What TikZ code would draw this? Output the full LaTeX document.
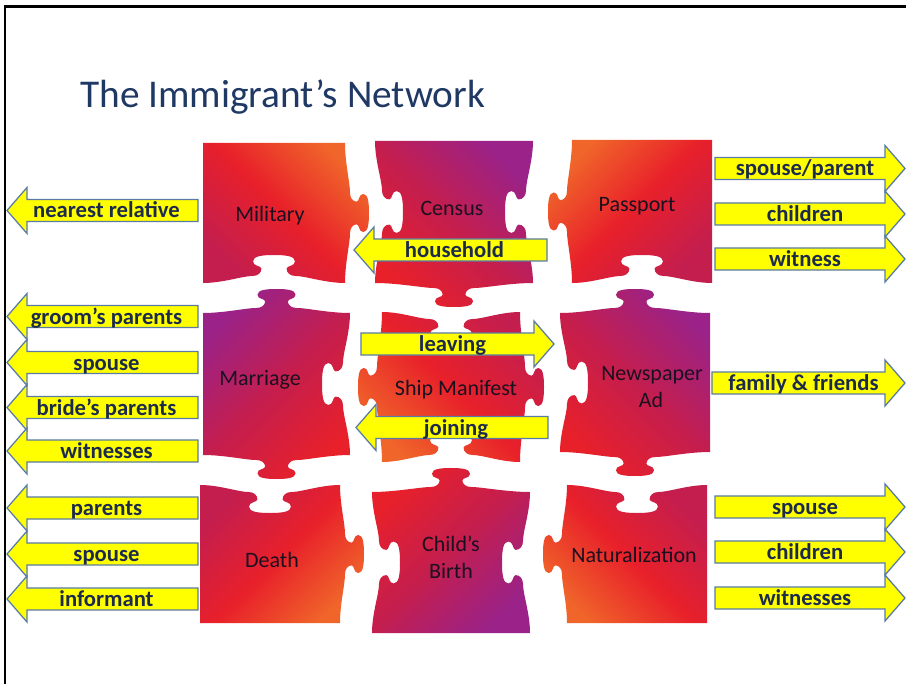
\documentclass[tikz,border=0pt]{standalone}
\usepackage{fontspec}
\setmainfont{Carlito}

\definecolor{pzred}{HTML}{E8202A}
\definecolor{pzorange}{HTML}{F0662A}
\definecolor{pzcrimson}{HTML}{C41E4E}
\definecolor{pzpurple}{HTML}{9A2288}
\definecolor{piecetext}{HTML}{1A1020}
\definecolor{arrowyellow}{HTML}{FFFF00}
\definecolor{arrowedge}{HTML}{5A7CA4}
\definecolor{arrowtext}{HTML}{1C2A4C}
\definecolor{titleblue}{HTML}{1F3864}

% One jigsaw side along a horizontal line.
% #1 centre x, #2 line y, #3 half length, #4 direction along x (+1/-1),
% #5 side of the bump in y (+1/-1), #6 bump depth, #7 side bulge, #8 head half width
\newcommand\hedge[8]{%
 .. controls ({#1+(#4)*(-(#3)+0.4*((#3)-0.6*(#8)-9))},{#2}) and ({#1+(#4)*(-0.6*(#8)-19)},{#2+(#5)*(#7)}) .. ({#1+(#4)*(-0.6*(#8)-9)},{#2+(#5)*(#7)})
 .. controls ({#1+(#4)*(-0.6*(#8)-3.6)},{#2+(#5)*(#7)}) and ({#1+(#4)*(-0.6*(#8))},{#2+(#5)*((#7)+0.15*(#6))}) .. ({#1+(#4)*(-0.6*(#8))},{#2+(#5)*((#7)+0.35*(#6))})
 .. controls ({#1+(#4)*(-0.6*(#8))},{#2+(#5)*((#7)+0.5*(#6))}) and ({#1+(#4)*(-(#8))},{#2+(#5)*((#7)+0.45*(#6))}) .. ({#1+(#4)*(-(#8))},{#2+(#5)*((#7)+0.7*(#6))})
 .. controls ({#1+(#4)*(-(#8))},{#2+(#5)*((#7)+0.95*(#6))}) and ({#1+(#4)*(-0.55*(#8))},{#2+(#5)*((#7)+(#6))}) .. ({#1},{#2+(#5)*((#7)+(#6))})
 .. controls ({#1+(#4)*(0.55*(#8))},{#2+(#5)*((#7)+(#6))}) and ({#1+(#4)*(#8)},{#2+(#5)*((#7)+0.95*(#6))}) .. ({#1+(#4)*(#8)},{#2+(#5)*((#7)+0.7*(#6))})
 .. controls ({#1+(#4)*(#8)},{#2+(#5)*((#7)+0.45*(#6))}) and ({#1+(#4)*(0.6*(#8))},{#2+(#5)*((#7)+0.5*(#6))}) .. ({#1+(#4)*(0.6*(#8))},{#2+(#5)*((#7)+0.35*(#6))})
 .. controls ({#1+(#4)*(0.6*(#8))},{#2+(#5)*((#7)+0.15*(#6))}) and ({#1+(#4)*(0.6*(#8)+3.6)},{#2+(#5)*(#7)}) .. ({#1+(#4)*(0.6*(#8)+9)},{#2+(#5)*(#7)})
 .. controls ({#1+(#4)*(0.6*(#8)+19)},{#2+(#5)*(#7)}) and ({#1+(#4)*((#3)-0.4*((#3)-0.6*(#8)-9))},{#2}) .. ({#1+(#4)*(#3)},{#2})}

% The same along a vertical line.
% #1 line x, #2 centre y, #3 half length, #4 direction along y, #5 side of the bump in x
\newcommand\vedge[8]{%
 .. controls ({#1},{#2+(#4)*(-(#3)+0.4*((#3)-0.6*(#8)-9))}) and ({#1+(#5)*(#7)},{#2+(#4)*(-0.6*(#8)-19)}) .. ({#1+(#5)*(#7)},{#2+(#4)*(-0.6*(#8)-9)})
 .. controls ({#1+(#5)*(#7)},{#2+(#4)*(-0.6*(#8)-3.6)}) and ({#1+(#5)*((#7)+0.15*(#6))},{#2+(#4)*(-0.6*(#8))}) .. ({#1+(#5)*((#7)+0.35*(#6))},{#2+(#4)*(-0.6*(#8))})
 .. controls ({#1+(#5)*((#7)+0.5*(#6))},{#2+(#4)*(-0.6*(#8))}) and ({#1+(#5)*((#7)+0.45*(#6))},{#2+(#4)*(-(#8))}) .. ({#1+(#5)*((#7)+0.7*(#6))},{#2+(#4)*(-(#8))})
 .. controls ({#1+(#5)*((#7)+0.95*(#6))},{#2+(#4)*(-(#8))}) and ({#1+(#5)*((#7)+(#6))},{#2+(#4)*(-0.55*(#8))}) .. ({#1+(#5)*((#7)+(#6))},{#2})
 .. controls ({#1+(#5)*((#7)+(#6))},{#2+(#4)*(0.55*(#8))}) and ({#1+(#5)*((#7)+0.95*(#6))},{#2+(#4)*(#8)}) .. ({#1+(#5)*((#7)+0.7*(#6))},{#2+(#4)*(#8)})
 .. controls ({#1+(#5)*((#7)+0.45*(#6))},{#2+(#4)*(#8)}) and ({#1+(#5)*((#7)+0.5*(#6))},{#2+(#4)*(0.6*(#8))}) .. ({#1+(#5)*((#7)+0.35*(#6))},{#2+(#4)*(0.6*(#8))})
 .. controls ({#1+(#5)*((#7)+0.15*(#6))},{#2+(#4)*(0.6*(#8))}) and ({#1+(#5)*(#7)},{#2+(#4)*(0.6*(#8)+3.6)}) .. ({#1+(#5)*(#7)},{#2+(#4)*(0.6*(#8)+9)})
 .. controls ({#1+(#5)*(#7)},{#2+(#4)*(0.6*(#8)+19)}) and ({#1},{#2+(#4)*((#3)-0.4*((#3)-0.6*(#8)-9))}) .. ({#1},{#2+(#4)*(#3)})}

\newcommand\htab[5]{\hedge{#1}{#2}{#3}{#4}{#5}{19}{5}{19}}
\newcommand\hblank[5]{\hedge{#1}{#2}{#3}{#4}{#5}{21}{7}{21}}
\newcommand\vtab[5]{\vedge{#1}{#2}{#3}{#4}{#5}{19}{5}{19}}
\newcommand\vblank[5]{\vedge{#1}{#2}{#3}{#4}{#5}{21}{7}{21}}

% Yellow block arrows with a bold label
\newcommand\larrow[5]{% name, tip x, tail x, centre y, label
  \draw[yarrow] (#2,#4) -- ({#2+20},{#4-23}) -- ({#2+20},{#4-11}) -- (#3,{#4-11})
     -- (#3,{#4+11}) -- ({#2+20},{#4+11}) -- ({#2+20},{#4+23}) -- cycle;
  \node[atxt] (#1) at ({(#2+#3)/2+4},{#4+7.5}) {#5};}
\newcommand\rarrow[5]{% name, tail x, tip x, centre y, label
  \draw[yarrow] (#3,#4) -- ({#3-20},{#4-23}) -- ({#3-20},{#4-11}) -- (#2,{#4-11})
     -- (#2,{#4+11}) -- ({#3-20},{#4+11}) -- ({#3-20},{#4+23}) -- cycle;
  \node[atxt] (#1) at ({(#2+#3)/2-5},{#4+7.5}) {#5};}

\begin{document}
\begin{tikzpicture}[x=0.75pt,y=-0.75pt,
  yarrow/.style={fill=arrowyellow,draw=arrowedge,line width=0.95pt,line join=miter},
  atxt/.style={anchor=base,inner sep=0pt,text=arrowtext,font=\fontsize{17}{19}\selectfont\bfseries},
  ptxt/.style={anchor=base,inner sep=0pt,text=piecetext,font=\fontsize{16.5}{19}\selectfont},
  titletxt/.style={anchor=base west,inner sep=0pt,text=titleblue,font=\fontsize{29.5}{34}\selectfont},
  pc-military/.style={left color=pzcrimson,right color=pzorange,middle color=pzred,shading angle=135},
  pc-census/.style={left color=pzred,right color=pzpurple,middle color=pzcrimson,shading angle=135},
  pc-passport/.style={left color=pzorange,right color=pzcrimson,middle color=pzred,shading angle=45},
  pc-marriage/.style={left color=pzpurple,right color=pzred,middle color=pzcrimson,shading angle=45},
  pc-ship/.style={left color=pzorange,right color=pzcrimson,middle color=pzred,shading angle=135},
  pc-news/.style={left color=pzred,right color=pzpurple,middle color=pzcrimson,shading angle=135},
  pc-death/.style={left color=pzcrimson,right color=pzorange,middle color=pzred,shading angle=45},
  pc-child/.style={left color=pzred,right color=pzpurple,middle color=pzcrimson,shading angle=45},
  pc-natur/.style={left color=pzorange,right color=pzcrimson,middle color=pzred,shading angle=135}]

\useasboundingbox (0,0) rectangle (906,684);
\fill[white] (0,0) rectangle (906,684);

% slide frame
\draw[line width=2.2pt] (5,684) -- (5,6.5) -- (906,6.5);

\node[titletxt] (title) at (80,108) {The Immigrant’s Network};

% ---- puzzle pieces ----
% top row
\path[pc-military] (203,143) -- (345,143) \vtab{345}{213}{70}{1}{1} \hblank{274}{283}{71}{-1}{-1} -- cycle;
\path[pc-census] (375,141) -- (533,141) \vblank{533}{212}{71}{1}{-1} \htab{454}{283}{79}{-1}{1} \vblank{375}{212}{71}{-1}{1} -- cycle;
\path[pc-passport] (572,140) -- (712,140) -- (712,283) \hblank{642}{283}{70}{-1}{-1} \vtab{572}{211.5}{71.5}{-1}{-1} -- cycle;
% middle row
\path[pc-marriage] (203,313) \htab{276.5}{313}{73.5}{1}{-1} \vblank{350}{384}{71}{1}{-1} \htab{276.5}{455}{73.5}{-1}{1} -- cycle;
\path[pc-ship] (382,312) \hblank{451}{312}{69}{1}{1} \vtab{520}{387}{75}{1}{1} \hblank{451}{462}{69}{-1}{-1} \vtab{382}{387}{75}{-1}{-1} -- cycle;
\path[pc-news] (560,313) \htab{635}{313}{75}{1}{-1} -- (710,452) \htab{635}{452}{75}{-1}{1} \vblank{560}{382.5}{69.5}{-1}{1} -- cycle;
% bottom row
\path[pc-death] (200,485) \hblank{270}{485}{70}{1}{1} \vtab{340}{554}{69}{1}{1} -- (200,623) -- cycle;
\path[pc-child] (372,492) \htab{451}{492}{79}{1}{-1} \vblank{530}{562.5}{70.5}{1}{-1} -- (372,633) \vblank{372}{562.5}{70.5}{-1}{1} -- cycle;
\path[pc-natur] (567,485) \hblank{637}{485}{70}{1}{1} -- (707,623) -- (567,623) \vtab{567}{554}{69}{-1}{-1} -- cycle;

% ---- piece labels ----
\node[ptxt] (military) at (270,221.5) {Military};
\node[ptxt] (census) at (452,216) {Census};
\node[ptxt] (passport) at (637,212) {Passport};
\node[ptxt] (marriage) at (260,385) {Marriage};
\node[ptxt] (ship) at (456,395) {Ship Manifest};
\node[ptxt] (newspaper) at (652,380) {Newspaper};
\node[ptxt] (newspaper-ad) at (651,407) {Ad};
\node[ptxt] (death) at (272,567) {Death};
\node[ptxt] (child) at (451,551) {Child’s};
\node[ptxt] (child-birth) at (451,578) {Birth};
\node[ptxt] (naturalization) at (634,562) {Naturalization};

% ---- arrows ----
\larrow{mil-relative}{7}{198}{210.5}{nearest relative}
\larrow{mar-groom}{7}{198}{316.5}{groom’s parents}
\larrow{mar-spouse}{7}{198}{362.5}{spouse}
\larrow{mar-bride}{7}{198}{407.5}{bride’s parents}
\larrow{mar-witnesses}{7}{198}{451}{witnesses}
\larrow{dea-parents}{7}{198}{508}{parents}
\larrow{dea-spouse}{7}{198}{554}{spouse}
\larrow{dea-informant}{7}{198}{599}{informant}

\larrow{cen-household}{354}{547}{250}{household}
\rarrow{shp-leaving}{361}{554}{344}{leaving}
\larrow{shp-joining}{356}{548}{427.5}{joining}

\rarrow{pas-spouse}{715}{905}{168.5}{spouse/parent}
\rarrow{pas-children}{715}{905}{214}{children}
\rarrow{pas-witness}{715}{905}{259}{witness}
\rarrow{new-family}{712}{905}{383}{family \& friends}
\rarrow{nat-spouse}{715}{905}{507}{spouse}
\rarrow{nat-children}{715}{905}{552}{children}
\rarrow{nat-witnesses}{715}{905}{598}{witnesses}

\end{tikzpicture}
\end{document}
